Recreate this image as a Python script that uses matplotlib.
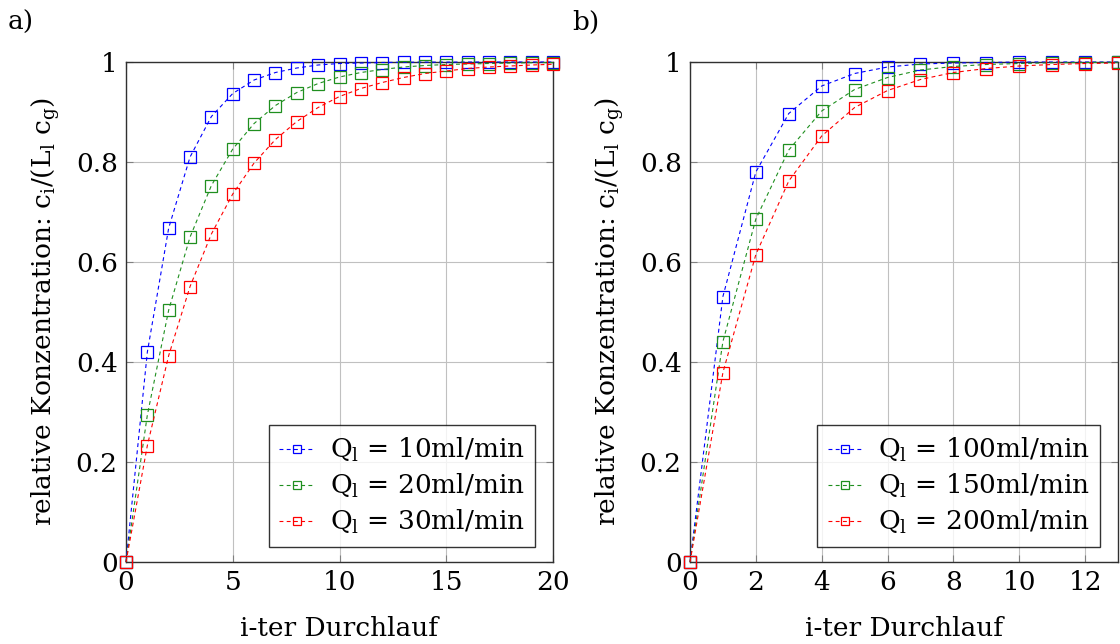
import matplotlib
matplotlib.use("Agg")
import matplotlib.pyplot as plt

plt.rcParams['font.family'] = ['DejaVu Serif']
plt.rcParams['mathtext.fontset'] = 'dejavuserif'

# ---- data ----
x_a = list(range(0, 21))
a_blue = [0, 0.420, 0.668, 0.810, 0.891, 0.937, 0.964, 0.979, 0.988, 0.994, 0.997,
          0.998, 0.999, 0.9995, 0.9997, 0.9998, 0.9999, 1.0, 1.0, 1.0, 1.0]
a_green = [0, 0.294, 0.504, 0.650, 0.753, 0.826, 0.877, 0.913, 0.939, 0.957, 0.970,
           0.979, 0.985, 0.990, 0.993, 0.995, 0.996, 0.997, 0.998, 0.9986, 0.999]
a_red = [0, 0.233, 0.413, 0.551, 0.656, 0.736, 0.798, 0.845, 0.881, 0.909, 0.931,
         0.947, 0.959, 0.969, 0.977, 0.982, 0.987, 0.990, 0.992, 0.994, 0.9955]
a_labels = ['Q$_\\mathrm{l}$ = 10ml/min', 'Q$_\\mathrm{l}$ = 20ml/min', 'Q$_\\mathrm{l}$ = 30ml/min']

x_b = list(range(0, 14))
b_blue = [0, 0.531, 0.780, 0.897, 0.952, 0.977, 0.990, 0.996, 0.998, 0.999, 1.0, 1.0, 1.0, 1.0]
b_green = [0, 0.441, 0.686, 0.824, 0.902, 0.945, 0.969, 0.984, 0.991, 0.995, 0.997, 0.9985, 0.999, 0.9995]
b_red = [0, 0.379, 0.615, 0.762, 0.852, 0.909, 0.943, 0.965, 0.979, 0.987, 0.992, 0.995, 0.997, 0.998]
b_labels = ['Q$_\\mathrm{l}$ = 100ml/min', 'Q$_\\mathrm{l}$ = 150ml/min', 'Q$_\\mathrm{l}$ = 200ml/min']

y_ticks = [0, 0.2, 0.4, 0.6, 0.8, 1.0]
y_ticklabels = ['0', '0.2', '0.4', '0.6', '0.8', '1']
xa_ticks = [0, 5, 10, 15, 20]
xb_ticks = [0, 2, 4, 6, 8, 10, 12]

colors = ['#0000ff', '#1f8f1f', '#ff0000']
ylabel = 'relative Konzentration: c$_\\mathrm{i}$/(L$_\\mathrm{l}$ c$_\\mathrm{g}$)'
xlabel = 'i-ter Durchlauf'

FS = 19

fig = plt.figure(figsize=(11.2, 6.44), dpi=100)
ax1 = fig.add_axes([126/1120, 82/644, 427/1120, 500/644])
ax2 = fig.add_axes([690/1120, 82/644, 428/1120, 500/644])

def draw(ax, x, series, labels, xlim, xticks, leg_anchor):
    for ys, c, lab in zip(series, colors, labels):
        ax.plot(x, ys, color=c, lw=0.8, dashes=(3.5, 3), marker='s', ms=8.5,
                mfc='none', mec=c, mew=0.9, clip_on=False, label=lab, zorder=3)
    ax.set_xlim(*xlim)
    ax.set_ylim(0, 1)
    ax.set_xticks(xticks)
    ax.set_xticklabels([str(t) for t in xticks])
    ax.set_yticks(y_ticks)
    ax.set_yticklabels(y_ticklabels)
    ax.grid(True, color='#c0c0c0', lw=0.8)
    ax.set_axisbelow(True)
    ax.tick_params(direction='in', top=True, right=True, length=5, width=0.8,
                   color='#808080', labelsize=FS, pad=6)
    for s in ax.spines.values():
        s.set_color('#303030')
        s.set_linewidth(1.0)
    ax.set_xlabel(xlabel, fontsize=FS, labelpad=15)
    ax.set_ylabel(ylabel, fontsize=FS, labelpad=10)
    leg = ax.legend(loc='lower right', bbox_to_anchor=leg_anchor, fontsize=FS,
                    frameon=True, fancybox=False, markerscale=0.6,
                    handlelength=1.3, handletextpad=0.6, labelspacing=0.3,
                    borderpad=0.4, borderaxespad=0)
    leg.get_frame().set_edgecolor('black')
    leg.get_frame().set_linewidth(1.0)

draw(ax1, x_a, [a_blue, a_green, a_red], a_labels, (0, 20), xa_ticks, (0.958, 0.03))
draw(ax2, x_b, [b_blue, b_green, b_red], b_labels, (0, 13), xb_ticks, (0.958, 0.03))

fig.text(8/1120, 1 - 30/644, 'a)', fontsize=FS)
fig.text(572/1120, 1 - 30/644, 'b)', fontsize=FS)

fig.savefig('out.png', dpi=100)
